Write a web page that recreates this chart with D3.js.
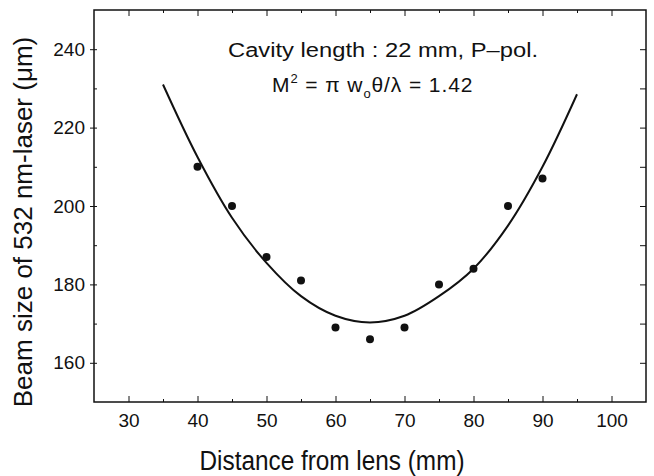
<!DOCTYPE html>
<html lang="en">
<head>
<meta charset="UTF-8">
<title>Beam size vs distance</title>
<style>
  body { margin: 0; background: #fff; }
  svg { display: block; font-family: "Liberation Sans", Arial, Helvetica, sans-serif; }
  .axis path, .axis line { stroke: #111; }
  .axis text { fill: #111; }
</style>
</head>
<body>
<svg id="chart" width="654" height="476"></svg>
<script src="https://cdnjs.cloudflare.com/ajax/libs/d3/7.8.5/d3.min.js"></script>
<script>
// measured points
let distance = [40, 45, 50, 55, 60, 65, 70, 75, 80, 85, 90];
let beamSize = [210, 200, 187, 181, 169, 166, 169, 180, 184, 200, 207];

// fitted curve
let fitDistance = [35, 40, 45, 50, 55, 60, 65, 70, 75, 80, 85, 90, 95];
let fitBeam = [231, 212.5, 197, 185.5, 177, 172, 170.3, 172, 177, 184, 195, 210, 228.5];

let xMajor = [30, 40, 50, 60, 70, 80, 90, 100];
let xMinor = [35, 45, 55, 65, 75, 85, 95];
let yMajor = [160, 180, 200, 220, 240];
let yMinor = [170, 190, 210, 230];

let margin = {top: 10, right: 8, bottom: 74, left: 94};
let width = 654, height = 476;

let svg = d3.select("#chart");

let x = d3.scaleLinear().domain([25, 105]).range([margin.left, width - margin.right]);
let y = d3.scaleLinear().domain([150, 250]).range([height - margin.bottom, margin.top]);

let bottom = height - margin.bottom, right = width - margin.right;

// bottom axis
svg.append("g").attr("class", "axis")
  .attr("transform", `translate(0,${bottom})`)
  .call(d3.axisBottom(x).tickValues(xMajor).tickSize(-6).tickPadding(12).tickFormat(d3.format("d")))
  .call(g => g.select(".domain").remove())
  .call(g => g.selectAll("text").attr("font-size", 19).attr("font-family", null));
svg.append("g").attr("class", "axis")
  .attr("transform", `translate(0,${bottom})`)
  .call(d3.axisBottom(x).tickValues(xMinor).tickSize(-3).tickFormat(""))
  .call(g => g.select(".domain").remove());

// top axis
svg.append("g").attr("class", "axis")
  .attr("transform", `translate(0,${margin.top})`)
  .call(d3.axisTop(x).tickValues(xMajor).tickSize(-6).tickFormat(""))
  .call(g => g.select(".domain").remove());
svg.append("g").attr("class", "axis")
  .attr("transform", `translate(0,${margin.top})`)
  .call(d3.axisTop(x).tickValues(xMinor).tickSize(-3).tickFormat(""))
  .call(g => g.select(".domain").remove());

// left axis
svg.append("g").attr("class", "axis")
  .attr("transform", `translate(${margin.left},0)`)
  .call(d3.axisLeft(y).tickValues(yMajor).tickSize(4).tickPadding(5).tickFormat(d3.format("d")))
  .call(g => g.select(".domain").remove())
  .call(g => g.selectAll("line").attr("x2", -4).attr("x1", 3))
  .call(g => g.selectAll("text").attr("font-size", 19).attr("font-family", null));
svg.append("g").attr("class", "axis")
  .attr("transform", `translate(${margin.left},0)`)
  .call(d3.axisLeft(y).tickValues(yMinor).tickSize(-3).tickFormat(""))
  .call(g => g.select(".domain").remove());

// right axis
svg.append("g").attr("class", "axis")
  .attr("transform", `translate(${right},0)`)
  .call(d3.axisRight(y).tickValues(yMajor.concat(yMinor)).tickSize(-6).tickFormat(""))
  .call(g => g.select(".domain").remove());

// frame
svg.append("rect")
  .attr("x", margin.left).attr("y", margin.top)
  .attr("width", right - margin.left).attr("height", bottom - margin.top)
  .attr("fill", "none").attr("stroke", "#111").attr("stroke-width", 1.5);

// fit curve
let fitData = fitDistance.map((d, i) => [d, fitBeam[i]]);
svg.append("path")
  .datum(fitData)
  .attr("fill", "none")
  .attr("stroke", "#111")
  .attr("stroke-width", 2)
  .attr("stroke-linejoin", "round")
  .attr("d", d3.line().x(d => x(d[0])).y(d => y(d[1])).curve(d3.curveCatmullRom.alpha(0.5)));

// points
svg.append("g").selectAll("circle")
  .data(distance.map((d, i) => [d, beamSize[i]]))
  .join("circle")
  .attr("cx", d => x(d[0]))
  .attr("cy", d => y(d[1]))
  .attr("r", 4)
  .attr("fill", "#111");

// annotations
svg.append("text")
  .attr("x", 228).attr("y", 57)
  .attr("font-size", 20)
  .attr("fill", "#111")
  .attr("textLength", 310).attr("lengthAdjust", "spacingAndGlyphs")
  .text("Cavity length : 22 mm, P\u2013pol.");

let m2 = svg.append("text")
  .attr("x", 272).attr("y", 92)
  .attr("font-size", 21)
  .attr("letter-spacing", 0.9)
  .attr("fill", "#111");
m2.append("tspan").text("M");
m2.append("tspan").attr("font-size", 13).attr("dy", -9).text("2");
m2.append("tspan").attr("dy", 9).text(" = \u03c0 w");
m2.append("tspan").attr("font-size", 13).attr("dy", 6).text("o");
m2.append("tspan").attr("dy", -6).text("\u03b8/\u03bb = 1.42");

// axis titles
svg.append("text")
  .attr("x", 332).attr("y", 470)
  .attr("text-anchor", "middle")
  .attr("font-size", 27)
  .attr("fill", "#111")
  .attr("textLength", 265).attr("lengthAdjust", "spacingAndGlyphs")
  .text("Distance from lens (mm)");

svg.append("text")
  .attr("transform", "translate(32,222) rotate(-90)")
  .attr("text-anchor", "middle")
  .attr("font-size", 26)
  .attr("fill", "#111")
  .text("Beam size of 532 nm-laser (\u03bcm)");
</script>
</body>
</html>
